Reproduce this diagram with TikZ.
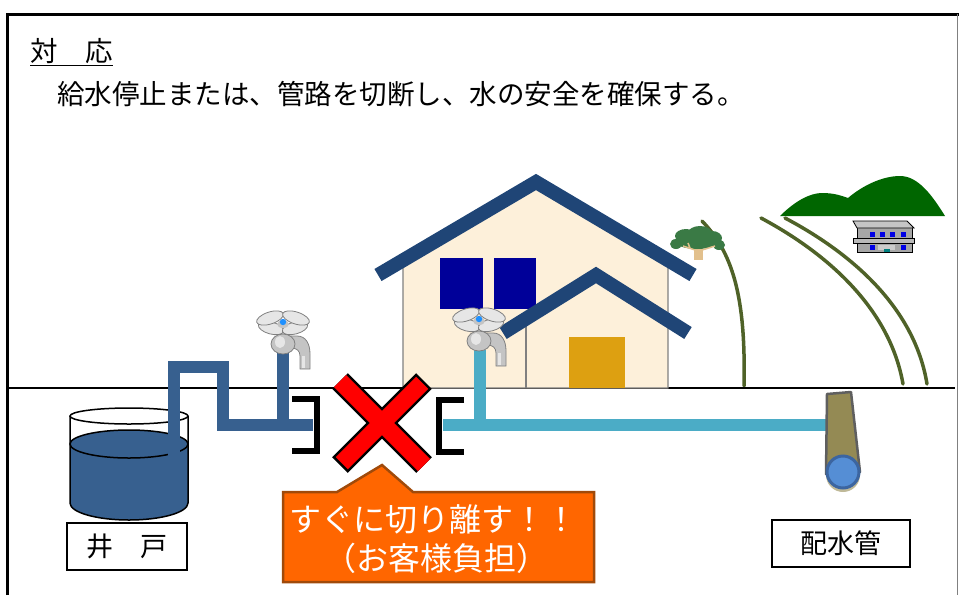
\documentclass[tikz,border=0pt]{standalone}
\usepackage{fontspec}
\setmainfont{Noto Sans CJK JP}
\usetikzlibrary{shapes.geometric}

\definecolor{pipedark}{HTML}{37608F}
\definecolor{pipelight}{HTML}{4BACC6}
\definecolor{roofblue}{HTML}{1F4576}
\definecolor{wallcream}{HTML}{FDF0DA}
\definecolor{winblue}{HTML}{000099}
\definecolor{doorgold}{HTML}{DDA011}
\definecolor{grassline}{HTML}{4F6228}
\definecolor{hillgreen}{HTML}{006600}
\definecolor{treegreen}{HTML}{3A7A45}
\definecolor{trunktan}{HTML}{E2C08D}
\definecolor{calloutfill}{HTML}{FF6600}
\definecolor{calloutedge}{HTML}{A04A0A}
\definecolor{mainolive}{HTML}{948A54}
\definecolor{mainedge}{HTML}{5F5F5F}
\definecolor{mainend}{HTML}{558ED5}
\definecolor{mainring}{HTML}{3C65A0}
\definecolor{fcbody}{HTML}{C4C4C4}
\definecolor{fclight}{HTML}{E6E6E6}
\definecolor{fcedge}{HTML}{808080}
\definecolor{fcdot}{HTML}{1E90FF}

\tikzset{
  bodytext/.style={font=\fontsize{27.5}{30}\selectfont, inner sep=0pt},
  labelbox/.style={draw, line width=1.3, inner sep=0pt, font=\fontsize{27}{30}\selectfont},
  callouttext/.style={text=white, inner sep=0pt, font=\fontsize{32}{36}\selectfont},
  pipe/.style={line width=12, line join=miter, line cap=butt},
  bracket/.style={line width=6, line join=miter, line cap=butt},
  roofline/.style={roofblue, line width=14, line join=miter, line cap=butt},
  grass/.style={grassline, line width=3.5, line cap=round},
  lobe/.style={fill=fclight, draw=fcedge, line width=0.8},
  faucet/.pic={
    % spout
    \draw[fill=fcbody, draw=fcedge, line width=0.8] (4,13) -- (14,13)
      .. controls (23,13) and (27,21) .. (27,31) -- (27,46) -- (17,46) -- (17,33)
      .. controls (17,28) and (14,25) .. (8,25) -- cycle;
    \fill[fclight] (19,33) rectangle (22,45);
    % neck and body
    \draw[fill=fclight, draw=fcedge, line width=0.8] (-5,2) rectangle (5,12);
    \draw[fill=fcbody, draw=fcedge, line width=0.8] (0,21) ellipse (12 and 10);
    \fill[fclight] (-3,19) ellipse (5 and 6);
    % cross handle
    \draw[lobe, rotate around={-15:(-12,5)}] (-12,5) ellipse (13 and 6);
    \draw[lobe, rotate around={15:(12,5)}] (12,5) ellipse (13 and 6);
    \draw[lobe, rotate around={18:(-13,-5)}] (-13,-5) ellipse (14 and 6);
    \draw[lobe, rotate around={-18:(13,-5)}] (13,-5) ellipse (14 and 6);
    \fill[fcbody] (0,1) ellipse (6 and 4);
    \fill[fcdot] (0,-1) circle (3.2);
  }
}

\begin{document}
\begin{tikzpicture}[x=1pt, y=-1pt]
\useasboundingbox (0,0) rectangle (959,595);

% frame
\draw[line width=3, line join=miter] (7,595) -- (7,14) -- (959,14);
\draw[gray, line width=1] (957,14) -- (957,595);

% heading and instruction
\node[bodytext, anchor=west] (title) at (30,51) {対　応};
\draw[line width=1.2] ([yshift=-1.5pt]title.south west) -- ([yshift=-1.5pt]title.south east);
\node[bodytext, anchor=west] (msg) at (57,94) {給水停止または、管路を切断し、水の安全を確保する。};

% hills and building in the distance
\fill[hillgreen] (780,216) .. controls (795,201) and (810,193) .. (822,193)
  .. controls (835,193) and (842,196) .. (848,198)
  .. controls (862,186) and (882,176) .. (900,176)
  .. controls (918,176) and (932,195) .. (945,216) -- cycle;
\begin{scope}[line width=0.8]
  \draw[fill=gray!70] (857,226) rectangle (912,238);
  \draw[fill=gray!45] (853,221) -- (907,221) -- (914,228) -- (857,228) -- cycle;
  \foreach \wx in {870,880,890,901} \fill[blue!90!black] (\wx,232) rectangle ++(5,5);
  \draw[fill=gray!55] (853,238) rectangle (914,243);
  \draw[fill=gray!70] (857,243) rectangle (912,252);
  \fill[gray!40] (878,245) rectangle (895,250);
  \fill[blue!90!black] (870,245) rectangle (875,250);
  \fill[blue!90!black] (901,245) rectangle (906,250);
  \fill[teal] (884,249) rectangle (890,252);
\end{scope}

% bent trees
\draw[grass] (702,221) .. controls (732,252) and (746,295) .. (744,386);
\draw[grass] (761,218) .. controls (830,255) and (890,310) .. (903,384);
\draw[grass] (785,218) .. controls (855,255) and (915,310) .. (927,384);

% small tree
\fill[trunktan] (694,244) rectangle (703,260);
\fill[treegreen] (697,241) ellipse (22 and 8) (686,236) ellipse (11 and 7) (700,233) ellipse (12 and 7)
  (712,238) ellipse (10 and 7) (676,244) ellipse (6 and 5) (719,245) ellipse (6 and 5);
\draw[trunktan, line width=1.5] (698,251) -- (683,246) (699,251) -- (715,246) (690,248) -- (688,243);

% ground
\draw[line width=1.5] (7,388) -- (955,388);

% house
\draw[fill=wallcream, draw=gray, line width=1.2] (403,388) -- (403,262) -- (536,186) -- (668,262) -- (668,388) -- cycle;
\draw[gray, line width=1.2] (526,318) -- (526,388);
\fill[winblue] (440,258) rectangle (483,309);
\fill[winblue] (494,258) rectangle (536,309);
\fill[doorgold] (569,337) rectangle (625,388);
\draw[roofline] (378,275) -- (536,182) -- (693,275);
\draw[roofline] (503,333) -- (596,275) -- (688,333);

% well
\fill[pipedark] (70,447) -- (70,503) arc[start angle=180, end angle=0, x radius=59, y radius=17] -- (188,447) -- cycle;
\draw[line width=1.5] (70,416) -- (70,503) arc[start angle=180, end angle=0, x radius=59, y radius=17] -- (188,416);
\draw[line width=1.5] (129,416) ellipse (59 and 8);
\draw[fill=pipedark, line width=1.5] (129,444) ellipse (59 and 14);

% supply pipes
\draw[pipe, pipedark] (174,497) -- (174,367) -- (223,367) -- (223,425) -- (313,425);
\draw[pipe, pipedark] (283,352) -- (283,425);
\draw[pipe, pipelight] (480,350) -- (480,425);
\draw[pipe, pipelight] (443,425) -- (827,425);

% faucets
\pic at (283,323) {faucet};
\pic at (479,320) {faucet};

% cut pipe ends
\draw[bracket] (292,398.5) -- (317,398.5) -- (317,451) -- (292,451);
\draw[bracket] (464,400) -- (438.5,400) -- (438.5,451.5) -- (464,451.5);

% red cross
\coordinate (xa) at (340,381);
\coordinate (xb) at (424,465);
\coordinate (xc) at (424,381);
\coordinate (xd) at (340,465);
\draw[line width=22] (xa) -- (xb) (xc) -- (xd);
\draw[red, line width=17, shorten <=2.5, shorten >=2.5] (xa) -- (xb) (xc) -- (xd);

% callout
\draw[fill=calloutfill, draw=calloutedge, line width=2.5, line join=miter]
  (283,492) -- (337,492) -- (382,465) -- (413,492) -- (594,492) -- (594,582) -- (283,582) -- cycle;
\node[callouttext] (cut) at (433,519) {すぐに切り離す！！};
\node[callouttext] (cost) at (436,558) {（お客様負担）};

% distribution main
\draw[fill=mainolive, draw=mainedge, line width=2.5, line join=round] (827,394) -- (851,392) -- (860,472) -- (826,474) -- cycle;
\fill[mainolive!60!white] (843,475) circle (17);
\draw[fill=mainend, draw=mainring, line width=3] (843,472) circle (16);

% labels
\node[labelbox, minimum width=120, minimum height=47] (well) at (127,546.5) {井　戸};
\node[labelbox, minimum width=138, minimum height=47] (main) at (841,543.5) {配水管};
\end{tikzpicture}
\end{document}
